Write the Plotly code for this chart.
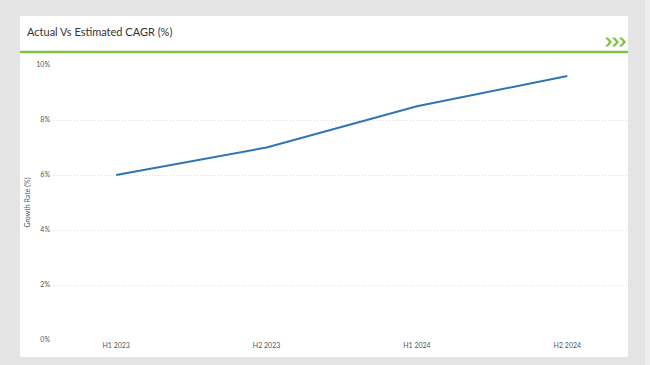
import plotly.graph_objects as go

periods = ["H1 2023", "H2 2023", "H1 2024", "H2 2024"]
growth_rate = [6.0, 7.0, 8.5, 9.6]
y_ticks = [0, 2, 4, 6, 8, 10]
y_tick_labels = [f"{v}%" for v in y_ticks]

W, H = 650, 365
L, R, T, B = 53, 21, 65, 25
pw, ph = W - L - R, H - T - B

def px(x):
    return (x - L) / pw

def py(y):
    return (H - B - y) / ph

fig = go.Figure()
fig.add_trace(go.Scatter(
    x=periods, y=growth_rate, mode="lines",
    line=dict(color="#2e75b6", width=2),
    hoverinfo="x+y", showlegend=False,
))

shapes = [
    dict(type="rect", xref="paper", yref="paper", x0=px(20), x1=px(628), y0=py(357), y1=py(16),
         fillcolor="white", line=dict(width=0), layer="below"),
    dict(type="line", xref="paper", yref="paper", x0=px(20), x1=px(628), y0=py(52), y1=py(52),
         line=dict(color="#7dc242", width=2.5), layer="above"),
    dict(type="rect", xref="paper", yref="paper", x0=px(645), x1=px(652), y0=py(366), y1=py(-1),
         fillcolor="#eeeeee", line=dict(width=0), layer="below"),
]
for cx in [605, 612, 619]:
    path = "M 0 4.5 L 3 4.5 L 7 0 L 3 -4.5 L 0 -4.5 L 4 0 Z"
    shapes.append(dict(type="path", xref="paper", yref="paper", xsizemode="pixel", ysizemode="pixel",
                       xanchor=px(cx), yanchor=py(42), path=path,
                       fillcolor="#7dc242", line=dict(width=0), layer="above"))

fig.update_layout(
    width=W, height=H,
    margin=dict(l=L, r=R, t=T, b=B),
    paper_bgcolor="#e4e4e4",
    plot_bgcolor="rgba(0,0,0,0)",
    font=dict(family="Lato, Open Sans, sans-serif", color="#555555", size=7),
    shapes=shapes,
    annotations=[
        dict(text="Actual Vs Estimated CAGR (%)", xref="paper", yref="paper",
             x=px(25), y=py(32), xanchor="left", yanchor="middle", showarrow=False,
             font=dict(size=11, color="#333333", family="Lato, Open Sans, sans-serif")),
    ],
    xaxis=dict(
        type="category", range=[-0.42, 3.41], showgrid=False, zeroline=False, showline=False,
        ticks="", tickfont=dict(size=7, color="#555555"), fixedrange=True,
    ),
    yaxis=dict(
        range=[0, 10], tickmode="array", tickvals=y_ticks, ticktext=y_tick_labels, showgrid=True,
        gridcolor="#dcdcdc", griddash="1px,2px", gridwidth=1, zeroline=False, showline=False,
        tickfont=dict(size=7, color="#555555"), ticks="", ticklabelstandoff=2,
        title=dict(text="Growth Rate (%)", font=dict(size=7, color="#555555"), standoff=4),
        fixedrange=True,
    ),
)

fig.write_html("out.html", config={"displayModeBar": False},
               post_script="document.body.style.margin='0';document.body.style.background='#e4e4e4';")
